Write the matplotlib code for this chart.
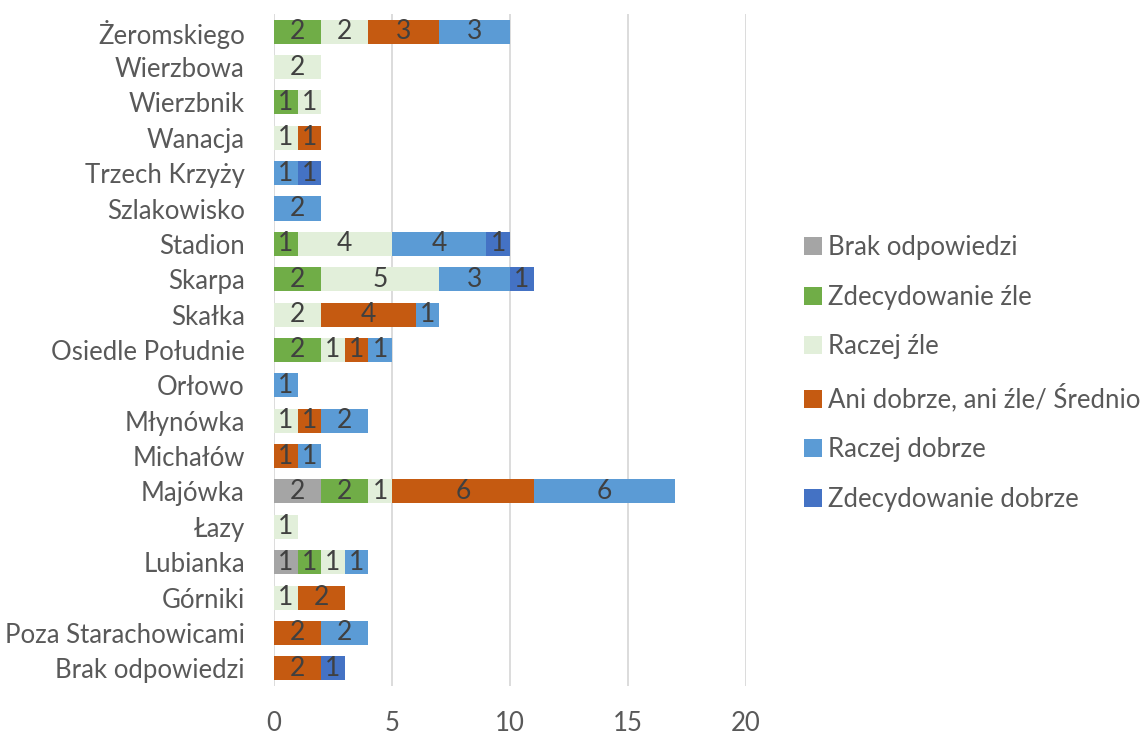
import numpy as np
import matplotlib
matplotlib.use("Agg")
import matplotlib.pyplot as plt

plt.rcParams['font.family'] = ['Lato', 'DejaVu Sans']

# categories, top to bottom as in the picture
districts = ['Żeromskiego', 'Wierzbowa', 'Wierzbnik', 'Wanacja', 'Trzech Krzyży',
             'Szlakowisko', 'Stadion', 'Skarpa', 'Skałka', 'Osiedle Południe',
             'Orłowo', 'Młynówka', 'Michałów', 'Majówka', 'Łazy', 'Lubianka',
             'Górniki', 'Poza Starachowicami', 'Brak odpowiedzi']

series_names = ['Brak odpowiedzi', 'Zdecydowanie źle', 'Raczej źle',
                'Ani dobrze, ani źle/ Średnio', 'Raczej dobrze', 'Zdecydowanie dobrze']

brak       = [0, 0, 0, 0, 0, 0, 0, 0, 0, 0, 0, 0, 0, 2, 0, 1, 0, 0, 0]
zdec_zle   = [2, 0, 1, 0, 0, 0, 1, 2, 0, 2, 0, 0, 0, 2, 0, 1, 0, 0, 0]
raczej_zle = [2, 2, 1, 1, 0, 0, 4, 5, 2, 1, 0, 1, 0, 1, 1, 1, 1, 0, 0]
srednio    = [3, 0, 0, 1, 0, 0, 0, 0, 4, 1, 0, 1, 1, 6, 0, 0, 2, 2, 2]
raczej_dob = [3, 0, 0, 0, 1, 2, 4, 3, 1, 1, 1, 2, 1, 6, 0, 1, 0, 2, 0]
zdec_dob   = [0, 0, 0, 0, 1, 0, 1, 1, 0, 0, 0, 0, 0, 0, 0, 0, 0, 0, 1]

series = [brak, zdec_zle, raczej_zle, srednio, raczej_dob, zdec_dob]
colors = ['#A5A5A5', '#70AD47', '#E2EFDA', '#C55A11', '#5B9BD5', '#4472C4']

fig = plt.figure(figsize=(11.43, 7.36), dpi=100)
ax = fig.add_axes([0.2397, 0.068, 0.413, 0.913])

y = np.arange(len(districts))
left = np.zeros(len(districts))
for name, vals, col in zip(series_names, series, colors):
    vals = np.array(vals, dtype=float)
    bars = ax.barh(y, vals, left=left, height=0.68, color=col, label=name, zorder=3)
    labels = [str(int(v)) if v > 0 else '' for v in vals]
    ax.bar_label(bars, labels=labels, label_type='center', color='#404040', fontsize=19)
    left += vals

ax.set_ylim(len(districts) - 0.5, -0.5)
ax.set_xlim(0, 20)
ax.set_xticks([0, 5, 10, 15, 20])
ax.set_yticks(y)
ax.set_yticklabels(districts)
ax.tick_params(axis='both', length=0, labelsize=18.5, colors='#595959')
ax.tick_params(axis='y', pad=21)
ax.tick_params(axis='x', pad=18)
ax.xaxis.grid(True, color='#D9D9D9', linewidth=1.3, zorder=0)
for s in ax.spines.values():
    s.set_visible(False)

leg = ax.legend(loc='center left', bbox_to_anchor=(1.1, 0.465), frameon=False,
                fontsize=18.5, labelcolor='#595959', handlelength=0.7, handleheight=0.7,
                handletextpad=0.25, labelspacing=0.96, borderaxespad=0)

fig.savefig('out.png', dpi=100)
